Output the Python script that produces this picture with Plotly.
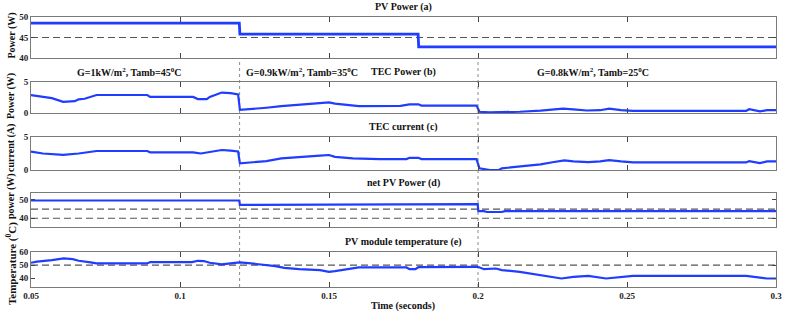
import plotly.graph_objects as go

# ---------------- data ----------------
t_pv = [0.05, 0.1199, 0.1201, 0.1799, 0.1801, 0.3]
pv_power = [48.5, 48.5, 45.8, 45.8, 42.7, 42.7]

t_tec = [0.05, 0.054, 0.057, 0.0608, 0.0647, 0.066, 0.068, 0.072, 0.089, 0.09, 0.1044, 0.106,
         0.109, 0.110, 0.112, 0.114, 0.117, 0.1195, 0.1201, 0.1235, 0.129, 0.134, 0.140, 0.146,
         0.148, 0.150, 0.152, 0.157, 0.160, 0.174, 0.177, 0.180, 0.181, 0.1995, 0.2005, 0.204,
         0.212, 0.214, 0.221, 0.225, 0.2285, 0.232, 0.2365, 0.241, 0.244, 0.248, 0.252, 0.290,
         0.291, 0.2946, 0.297, 0.3]
tec_power = [2.9, 2.6, 2.4, 1.8, 1.9, 2.2, 2.3, 2.9, 2.9, 2.6, 2.6, 2.25,
             2.25, 2.6, 2.9, 3.3, 3.2, 3.0, 0.5, 0.6, 0.85, 1.1, 1.35, 1.5,
             1.7, 1.7, 1.5, 1.25, 1.1, 1.15, 1.4, 1.4, 1.2, 1.2, 0.2, 0.1,
             0.1, 0.2, 0.37, 0.55, 0.7, 0.6, 0.4, 0.45, 0.7, 0.45, 0.35, 0.35,
             0.6, 0.25, 0.45, 0.45]

t_cur = [0.05, 0.054, 0.0608, 0.066, 0.072, 0.089, 0.09, 0.1044, 0.107, 0.109, 0.114, 0.117,
         0.1195, 0.1201, 0.124, 0.129, 0.134, 0.140, 0.147, 0.150, 0.152, 0.158, 0.167, 0.176,
         0.177, 0.180, 0.181, 0.1995, 0.2005, 0.204, 0.207, 0.208, 0.214, 0.221, 0.225, 0.229,
         0.232, 0.237, 0.241, 0.244, 0.248, 0.252, 0.290, 0.291, 0.2946, 0.297, 0.3]
tec_current = [2.8, 2.5, 2.3, 2.5, 2.88, 2.88, 2.68, 2.68, 2.5, 2.68, 3.03, 2.93,
               2.8, 1.0, 1.17, 1.35, 1.77, 2.0, 2.17, 2.27, 2.0, 1.77, 1.65, 1.65,
               1.85, 1.85, 1.65, 1.65, 0.25, 0.0, 0.0, 0.25, 0.5, 0.86, 1.17, 1.45,
               1.3, 1.2, 1.3, 1.5, 1.3, 1.15, 1.15, 1.35, 1.05, 1.3, 1.3]

t_net = [0.05, 0.1199, 0.1201, 0.125, 0.126, 0.1999, 0.2001, 0.202, 0.203, 0.208, 0.209, 0.3]
net_power = [49.7, 49.7, 47.3, 47.3, 47.7, 47.7, 43.9, 43.9, 43.4, 43.4, 43.9, 43.9]

t_temp = [0.05, 0.052, 0.057, 0.061, 0.064, 0.066, 0.07, 0.072, 0.089, 0.09, 0.104, 0.106,
          0.108, 0.110, 0.114, 0.117, 0.12, 0.123, 0.127, 0.132, 0.135, 0.140, 0.147, 0.150,
          0.152, 0.156, 0.160, 0.176, 0.177, 0.179, 0.180, 0.2, 0.202, 0.206, 0.208, 0.214,
          0.221, 0.228, 0.232, 0.237, 0.243, 0.248, 0.252, 0.290, 0.293, 0.297, 0.3]
pv_temp = [51.8, 52.6, 53.8, 55.1, 54.6, 53.3, 52.1, 51.3, 51.3, 52.3, 52.3, 53.3,
           53.1, 51.8, 50.5, 51.5, 52.1, 51.5, 50.5, 49.2, 47.9, 46.9, 46.2, 44.9,
           45.4, 46.9, 48.2, 48.2, 46.9, 46.9, 48.4, 48.7, 46.9, 47.4, 46.2, 44.9,
           42.3, 39.8, 41.0, 41.8, 39.8, 41.0, 41.8, 41.8, 41.0, 39.8, 39.8]

ref_a = [45]
ref_d = [45, 40]
ref_e = [50]
t_events = [0.12, 0.2]

x_ticks = [0.05, 0.1, 0.15, 0.2, 0.25, 0.3]
x_ticktext = ["0.05", "0.1", "0.15", "0.2", "0.25", "0.3"]

titles = ["PV Power (a)", "TEC Power (b)", "TEC current (c)", "net PV Power (d)",
          "PV module temperature (e)"]
conditions = ["G=1kW/m<sup>2</sup>, Tamb=45<sup>0</sup>C",
              "G=0.9kW/m<sup>2</sup>, Tamb=35<sup>0</sup>C",
              "G=0.8kW/m<sup>2</sup>, Tamb=25<sup>0</sup>C"]
ylabels = ["Power (W)", "Power (W)", "current (A)", "power (W)", "Temperature (<sup>0</sup>C)"]

# ---------------- layout geometry ----------------
W, H = 785, 315
PL, PR, PT, PB = 31, 776, 17, 287          # plot area in page pixels
ML, MR, MT, MB = PL, W - PR, PT, H - PB


def px(x):
    return (x - PL) / (PR - PL)


def py(y):
    return (PB - y) / (PB - PT)


domains = [[py(58), py(17)], [py(113), py(82)], [py(170), py(137)],
           [py(227), py(193)], [py(287), py(252)]]
yranges = [[40, 50], [0, 5], [0, 5], [35.2, 53.8], [33.3, 60]]
yticks = [[40, 45, 50], [0, 5], [0, 5], [40, 50], [40, 50, 60]]
line_w = [2.8, 2.2, 2.2, 2.2, 2.2]

BLUE = "#1f3cff"
FONT = "Liberation Serif"

fig = go.Figure()
series = [(t_pv, pv_power), (t_tec, tec_power), (t_cur, tec_current),
          (t_net, net_power), (t_temp, pv_temp)]
refs = [ref_a, [], [], ref_d, ref_e]

for i, ((tx, vy), rf) in enumerate(zip(series, refs)):
    ax = "" if i == 0 else str(i + 1)
    for r in rf:
        fig.add_trace(go.Scatter(x=[0.05, 0.3], y=[r, r], mode="lines",
                                 line=dict(color="#555555", width=1.2, dash="7px,4px"),
                                 xaxis="x" + ax, yaxis="y" + ax, showlegend=False,
                                 hoverinfo="skip"))
    fig.add_trace(go.Scatter(x=tx, y=vy, mode="lines",
                             line=dict(color=BLUE, width=line_w[i]),
                             xaxis="x" + ax, yaxis="y" + ax, showlegend=False))

axis_common = dict(showline=True, linecolor="#7a7a7a", linewidth=1, mirror="ticks",
                   ticks="inside", ticklen=5, tickcolor="#444444", showgrid=False,
                   zeroline=False, tickfont=dict(family=FONT, size=9, color="#222222",
                                                 weight="bold"))

layout = dict(width=W, height=H, margin=dict(l=ML, r=MR, t=MT, b=MB, autoexpand=False),
              paper_bgcolor="white", plot_bgcolor="white",
              font=dict(family=FONT, size=10, color="#111111", weight="bold"))

for i in range(5):
    ax = "" if i == 0 else str(i + 1)
    xa = dict(axis_common, range=[0.05, 0.3], tickvals=x_ticks, ticktext=x_ticktext,
              showticklabels=(i == 4), anchor="y" + ax)
    if i > 0:
        xa["matches"] = "x"
    ya = dict(axis_common, range=yranges[i], tickvals=yticks[i], domain=domains[i],
              anchor="x" + ax, ticklen=4)
    layout["xaxis" + ax] = xa
    layout["yaxis" + ax] = ya

fig.update_layout(**layout)

# dotted event lines
for te in t_events:
    fig.add_shape(type="line", xref="x", yref="paper", x0=te, x1=te, y0=0, y1=domains[0][0],
                  line=dict(color="#8a8a8a", width=1, dash="dot"), layer="below")

TXT = dict(family=FONT, size=10, color="#111111", weight="bold")

# panel titles
title_y = [7, 72, 127, 183, 242]
for ttl, yy in zip(titles, title_y):
    fig.add_annotation(text=ttl, xref="paper", yref="paper", x=px(403.5), y=py(yy),
                       showarrow=False, xanchor="center", yanchor="middle", font=TXT)

# operating condition labels
cond_px = [129, 302, 593]
for txt, cx in zip(conditions, cond_px):
    fig.add_annotation(text=txt, xref="paper", yref="paper", x=px(cx), y=py(72),
                       showarrow=False, xanchor="center", yanchor="middle", font=TXT)

# y-axis labels
ylab_y = [35.5, 96, 148, 196, 264]
ylab_size = [10, 10, 10, 10, 11]
for lab, yy, sz in zip(ylabels, ylab_y, ylab_size):
    fig.add_annotation(text=lab, xref="paper", yref="paper", x=px(11), y=py(yy),
                       showarrow=False, textangle=-90, xanchor="center", yanchor="middle",
                       font=dict(TXT, size=sz))

fig.add_annotation(text="Time (seconds)", xref="paper", yref="paper", x=px(403), y=py(306),
                   showarrow=False, xanchor="center", yanchor="middle", font=TXT)

# remove the default 8px page margin so the figure sits at the window's top-left corner
fig.write_html("out.html", config={"displayModeBar": False},
               post_script="document.body.style.margin='0';document.body.style.padding='0';"
                           "document.documentElement.style.overflow='hidden';")
